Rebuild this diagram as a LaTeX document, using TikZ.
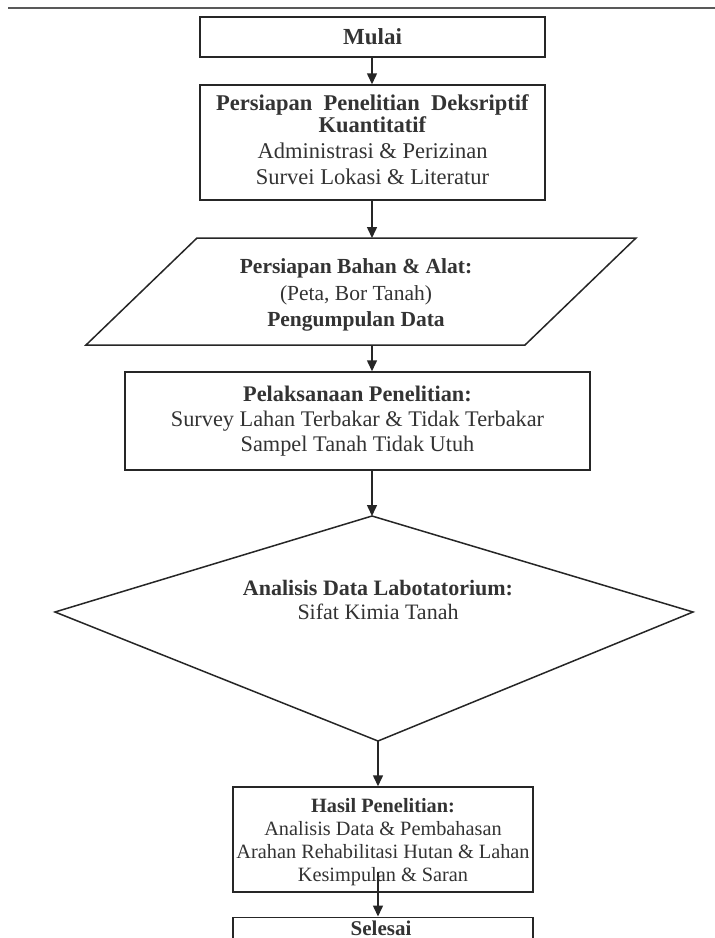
\documentclass[tikz,border=0pt]{standalone}
\usepackage{fontspec}
\setmainfont{Liberation Serif}
\usetikzlibrary{arrows.meta}
\begin{document}
\begin{tikzpicture}[x=1pt,y=-1pt,
  box/.style={draw=black!85, line width=1.5pt, inner sep=0pt, align=center, text=black!80},
  txt/.style={align=center, text=black!80, inner sep=0pt},
  shapeline/.style={draw=black!85, line width=1.5pt, line join=miter},
  arr/.style={draw=black!85, line width=1.5pt, -{Triangle[width=10pt,length=11pt]}}]
\useasboundingbox (0,0) rectangle (715,938);
\fill[white] (0,0) rectangle (715,938);
% page rule
\coordinate (ruleL) at (8,8);
\coordinate (ruleR) at (715,8);
\draw[line width=2pt, black!65] (ruleL) -- (ruleR);

% Mulai
\node[box, minimum width=345pt, minimum height=40pt] (start) at (372.5,37) {};
\node[txt, font=\fontsize{23}{26}\selectfont] (tstart) at (372.5,37) {\textbf{Mulai}};

% Persiapan Penelitian
\node[box, minimum width=345pt, minimum height=115pt] (prep) at (372.5,142.5) {};
\node[txt, font=\fontsize{22.5}{26}\selectfont] (tprep) at (372.5,140)
  {\textbf{Persiapan\ \ Penelitian\ \ Deksriptif}\\[-4pt]\textbf{Kuantitatif}\\Administrasi \& Perizinan\\Survei Lokasi \& Literatur};

% Parallelogram
\coordinate (pTL) at (197,238);
\coordinate (pTR) at (636,238);
\coordinate (pBR) at (525,345);
\coordinate (pBL) at (86,345);
\coordinate (pTop) at (372,238);
\coordinate (pBot) at (372,345);
\draw[shapeline] (pTL) -- (pTR) -- (pBR) -- (pBL) -- cycle;
\node[txt, font=\fontsize{21.5}{26.5}\selectfont] (bahan) at (356,295)
  {\textbf{Persiapan Bahan \& Alat:}\\(Peta, Bor Tanah)\\\textbf{Pengumpulan Data}};

% Pelaksanaan
\node[box, minimum width=465pt, minimum height=98pt] (pelak) at (357.5,421) {};
\node[txt, font=\fontsize{22.3}{25}\selectfont] (tpelak) at (357.5,421.5)
  {\textbf{Pelaksanaan Penelitian:}\\Survey Lahan Terbakar \& Tidak Terbakar\\Sampel Tanah Tidak Utuh};

% Diamond
\coordinate (dTop) at (372,516);
\coordinate (dRight) at (693,612);
\coordinate (dBot) at (378,741);
\coordinate (dLeft) at (55,612);
\draw[shapeline] (dTop) -- (dRight) -- (dBot) -- (dLeft) -- cycle;
\node[txt, font=\fontsize{22}{24.5}\selectfont] (analisis) at (378,600)
  {\textbf{Analisis Data Labotatorium:}\\Sifat Kimia Tanah};

% Hasil
\node[box, minimum width=300pt, minimum height=105pt] (hasil) at (383,839.5) {};
\node[txt, font=\fontsize{20.3}{23}\selectfont] (thasil) at (383,842.5)
  {\textbf{Hasil Penelitian:}\\Analisis Data \& Pembahasan\\Arahan Rehabilitasi Hutan \& Lahan\\Kesimpulan \& Saran};

% Selesai
\node[box, minimum width=300pt, minimum height=44pt, anchor=north] (selesai) at (383,916.5) {};
\node[txt, font=\fontsize{21}{24}\selectfont] (tselesai) at (381,928) {\textbf{Selesai}};

% connectors
\draw[arr] (start.south -| pTop) -- (prep.north -| pTop);
\draw[arr] (prep.south -| pTop) -- (pTop);
\draw[arr] (pBot) -- (pelak.north -| pBot);
\draw[arr] (pelak.south -| dTop) -- (dTop);
\draw[arr] (dBot) -- (hasil.north -| dBot);
\coordinate (hOut) at (378,872);
\draw[arr] (hOut) -- (selesai.north -| hOut);
\end{tikzpicture}
\end{document}
